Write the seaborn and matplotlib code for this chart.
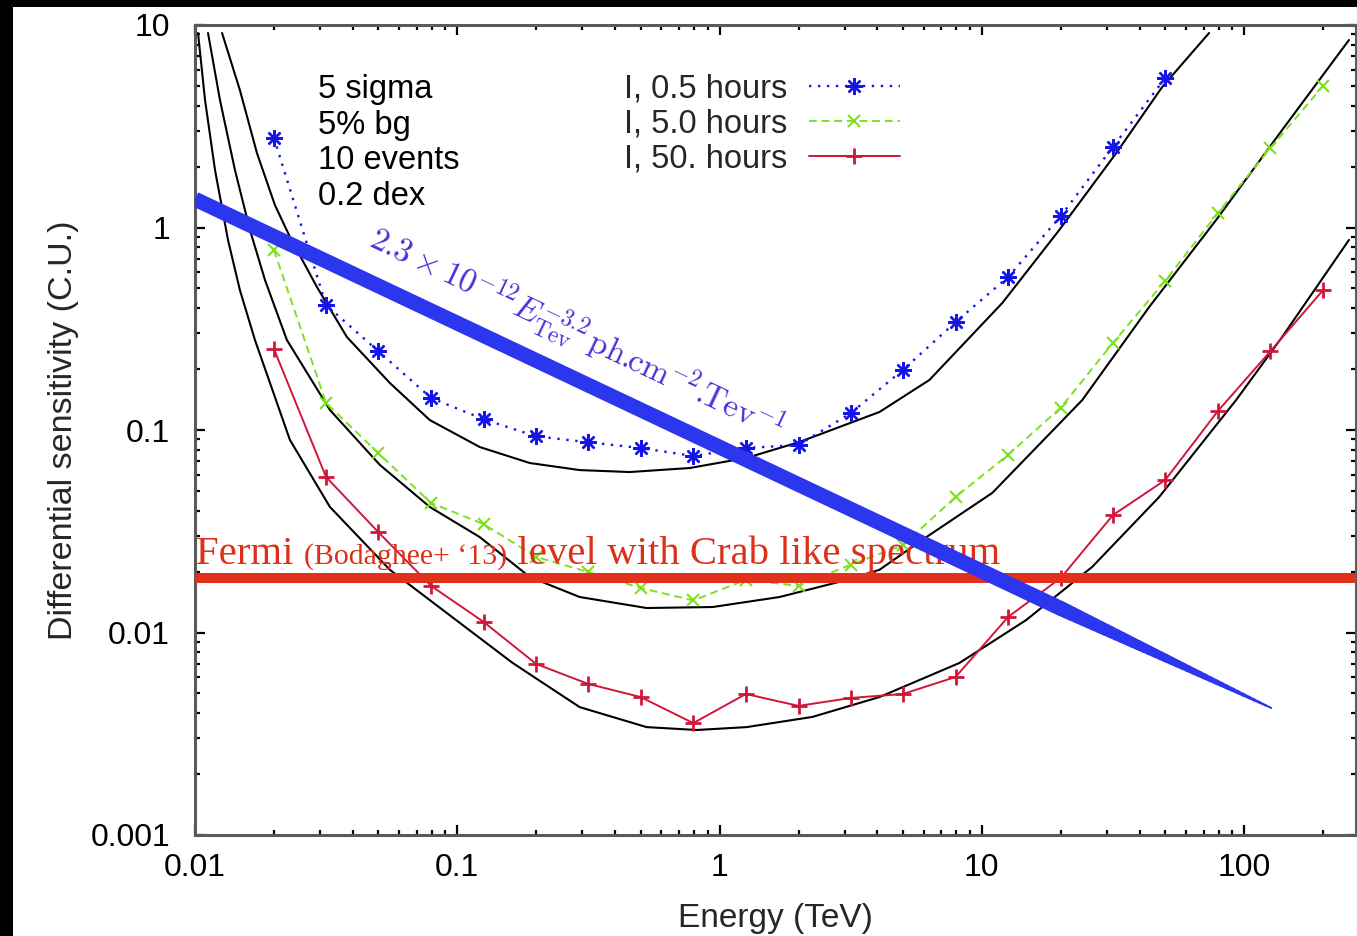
import numpy as np
import matplotlib
matplotlib.use("Agg")
import matplotlib.pyplot as plt
import seaborn as sns
from matplotlib import ticker
from matplotlib.collections import LineCollection
from matplotlib.patches import Rectangle
from matplotlib.offsetbox import TextArea, HPacker, AnchoredOffsetbox

# ---------------- data ----------------
energy_pts = [0.02, 0.0316, 0.05, 0.0794, 0.126, 0.2, 0.316, 0.5, 0.794, 1.26,
              2.0, 3.16, 5.0, 7.94, 12.6, 20.0, 31.6, 50.0, 79.4, 126.0, 200.0]
sens_05h = [2.77, 0.414, 0.245, 0.144, 0.113, 0.093, 0.087, 0.0815, 0.0744, 0.0815,
            0.0843, 0.121, 0.198, 0.341, 0.570, 1.14, 2.50, 5.47]
sens_5h = [0.774, 0.136, 0.0769, 0.0436, 0.0343, 0.0236, 0.0199, 0.0166, 0.0144, 0.0182,
           0.0170, 0.0216, 0.0270, 0.0467, 0.0754, 0.129, 0.269, 0.545, 1.18, 2.47, 5.0]
sens_50h = [0.251, 0.0586, 0.0313, 0.0170, 0.01128, 0.00699, 0.00557, 0.00480, 0.00357, 0.00497,
            0.00434, 0.00475, 0.00497, 0.00603, 0.01194, 0.0186, 0.0380, 0.0566, 0.124, 0.245, 0.491]
series_labels = ["I, 0.5 hours", "I, 5.0 hours", "I, 50. hours"]

fitA_x = [0.01268, 0.01483, 0.01723, 0.02017, 0.02301, 0.02917, 0.03793, 0.05534, 0.07853, 0.1218,
          0.1889, 0.2929, 0.4540, 0.7690, 1.267, 2.018, 4.070, 6.31, 11.97, 19.73, 32.53, 48.7, 73.5]
fitA_y = [9.13, 4.77, 2.33, 1.29, 0.898, 0.508, 0.288, 0.1706, 0.112, 0.0824,
          0.0687, 0.0634, 0.0620, 0.0649, 0.0728, 0.0873, 0.1227, 0.1766, 0.424, 0.972, 2.33, 4.94, 9.13]
fitB_x = [0.01121, 0.01245, 0.01420, 0.01620, 0.01848, 0.02241, 0.03268, 0.05070, 0.07853, 0.1218,
          0.1889, 0.2929, 0.5272, 0.9404, 1.693, 3.046, 4.070, 6.149, 10.96, 24.15, 43.46, 78.2, 139.6, 251.0]
fitB_y = [9.13, 4.26, 1.923, 0.972, 0.551, 0.278, 0.1256, 0.0672, 0.0417, 0.0296,
          0.0188, 0.01497, 0.01321, 0.01336, 0.01497, 0.01816, 0.0204, 0.0296, 0.0489, 0.1406, 0.405, 1.089, 3.03, 8.43]
fitC_x = [0.01027, 0.01092, 0.01192, 0.01336, 0.01483, 0.01693, 0.02301, 0.03268, 0.05534, 0.0912,
          0.1627, 0.2929, 0.5272, 0.817, 1.267, 2.261, 4.070, 8.21, 14.77, 26.36, 47.45, 93.2, 139.6, 251.0]
fitC_y = [9.13, 4.26, 1.923, 0.868, 0.491, 0.278, 0.0893, 0.0417, 0.0204, 0.01248,
          0.00707, 0.00428, 0.00341, 0.00330, 0.00341, 0.00383, 0.00480, 0.00707, 0.01153, 0.0211, 0.0467, 0.1406, 0.288, 0.868]

crab_energy = [0.01, 126.8]
crab_flux = [1.38, 0.00424]
fermi_level = 0.0186

cond_lines = ["5 sigma", "5% bg", "10 events", "0.2 dex"]
x_ticks = [0.01, 0.1, 1, 10, 100]
y_ticks = [0.001, 0.01, 0.1, 1, 10]

# ---------------- style ----------------
sns.set_style("ticks")
plt.rcParams["font.family"] = ["Liberation Sans", "DejaVu Sans"]
plt.rcParams["mathtext.fontset"] = "cm"

W, H = 1357, 936
fig = plt.figure(figsize=(W / 100, H / 100), dpi=100, facecolor="white")
ax = fig.add_axes([195 / W, 1 - 835 / H, (1356 - 195) / W, (835 - 25) / H])
ax.set_facecolor("white")
ax.set_xscale("log")
ax.set_yscale("log")

# black fit curves
for fx, fy in [(fitA_x, fitA_y), (fitB_x, fitB_y), (fitC_x, fitC_y)]:
    sns.lineplot(x=fx, y=fy, ax=ax, color="black", lw=1.5, estimator=None, sort=False,
                 legend=False, zorder=2)

blue_c, green_c, red_c = "#1515e8", "#7ee01e", "#d0163a"
n05 = len(sens_05h)
sns.lineplot(x=energy_pts[:n05], y=sens_05h, ax=ax, color=blue_c, lw=1.7,
             linestyle=(0, (1, 2.8)), marker=(8, 2, 0), ms=12, mew=1.7, mec=blue_c,
             estimator=None, sort=False, legend=False, zorder=3)
sns.lineplot(x=energy_pts, y=sens_5h, ax=ax, color=green_c, lw=1.4,
             linestyle=(0, (4, 2.5)), marker="x", ms=9, mew=1.5, mec=green_c,
             estimator=None, sort=False, legend=False, zorder=3)
sns.lineplot(x=energy_pts, y=sens_50h, ax=ax, color=red_c, lw=1.4,
             linestyle="-", marker="+", ms=11, mew=2.0, mec=red_c,
             estimator=None, sort=False, legend=False, zorder=3)
series_handles = ax.lines[-3:]

# Fermi level band
ax.axhline(fermi_level, color="#e2301a", lw=7.2, zorder=5, solid_capstyle="butt")

# Crab-like spectrum band (thick, tapering toward its end)
lx = np.log10(crab_energy)
ly = np.log10(crab_flux)
t_taper = 0.80
ax.plot([10 ** lx[0], 10 ** (lx[0] + t_taper * (lx[1] - lx[0]))],
        [10 ** ly[0], 10 ** (ly[0] + t_taper * (ly[1] - ly[0]))],
        color="#2b36ee", lw=10.8, solid_capstyle="butt", zorder=7)
ts = np.linspace(t_taper, 1.0, 40)
px = 10 ** (lx[0] + ts * (lx[1] - lx[0]))
py = 10 ** (ly[0] + ts * (ly[1] - ly[0]))
segs = [[(px[i], py[i]), (px[i + 1], py[i + 1])] for i in range(len(ts) - 1)]
widths = np.linspace(10.8, 1.5, len(segs))
lc = LineCollection(segs, linewidths=widths, colors="#2b36ee", capstyle="round", zorder=7)
ax.add_collection(lc)

ax.text(0.0452, 0.80,
        r"$2.3\times10^{-12}E_{\mathrm{Tev}}^{-3.2}\,\mathrm{ph.\!\!cm}^{-2}.\!\!\mathrm{Tev}^{-1}$",
        color="#4533d8", fontsize=24, rotation=-25.3, rotation_mode="anchor",
        ha="left", va="baseline", zorder=8)

# Fermi label
serif = ["Liberation Serif", "DejaVu Serif"]
fc = "#dc3018"
parts = HPacker(children=[
    TextArea("Fermi ", textprops=dict(color=fc, fontsize=29.3, family=serif)),
    TextArea("(Bodaghee+ \u201813)", textprops=dict(color=fc, fontsize=21.5, family=serif)),
    TextArea(" level with Crab like spectrum", textprops=dict(color=fc, fontsize=29.3, family=serif)),
], align="baseline", pad=0, sep=0)
box = AnchoredOffsetbox(loc="lower left", child=parts, frameon=False, pad=0, borderpad=0,
                        bbox_to_anchor=(0.001, 0.3235), bbox_transform=ax.transAxes)
box.set_zorder(6)
ax.add_artist(box)

# condition text
for i, s in enumerate(cond_lines):
    ax.text(0.1059, 0.920 - i * 0.0438, s, transform=ax.transAxes, fontsize=23.5,
            ha="left", va="center", color="black", zorder=8)

leg = ax.legend(series_handles, series_labels, loc="upper right",
                bbox_to_anchor=(900 / W, 1 - 73 / H), bbox_transform=fig.transFigure,
                frameon=False, markerfirst=False, handlelength=2.8, handletextpad=0.65,
                labelspacing=0.13, borderpad=0, borderaxespad=0, fontsize=23.5, numpoints=1)
leg.set_zorder(9)

# axes
ax.set_xlim(0.01, 267)
ax.set_ylim(0.001, 10)
ax.xaxis.set_major_locator(ticker.FixedLocator(x_ticks))
ax.yaxis.set_major_locator(ticker.FixedLocator(y_ticks))
ax.xaxis.set_minor_locator(ticker.LogLocator(base=10, subs=np.arange(2, 10)))
ax.yaxis.set_minor_locator(ticker.LogLocator(base=10, subs=np.arange(2, 10)))
fmt = ticker.FuncFormatter(lambda v, _: f"{v:g}")
ax.xaxis.set_major_formatter(fmt)
ax.yaxis.set_major_formatter(fmt)
ax.xaxis.set_minor_formatter(ticker.NullFormatter())
ax.yaxis.set_minor_formatter(ticker.NullFormatter())
ax.tick_params(which="both", direction="in", top=True, right=True, color="black",
               width=1.6, labelsize=23, labelcolor="black")
ax.tick_params(which="major", length=7)
ax.tick_params(which="minor", length=3.5)
ax.tick_params(axis="x", which="major", pad=13)
ax.tick_params(axis="y", which="major", pad=18)
for sp in ax.spines.values():
    sp.set_visible(True)
    sp.set_color("#5a5a5a")
    sp.set_linewidth(2.2)

ax.set_xlabel("Energy (TeV)", fontsize=24, labelpad=14)
ax.set_ylabel("Differential sensitivity (C.U.)", fontsize=24.5, labelpad=8)

# black frame strips of the screenshot
fig.add_artist(Rectangle((0, 1 - 7 / H), 1, 7 / H, transform=fig.transFigure,
                         facecolor="black", edgecolor="none", zorder=20))
fig.add_artist(Rectangle((0, 0), 13 / W, 1, transform=fig.transFigure,
                         facecolor="black", edgecolor="none", zorder=20))

fig.savefig("out.png", dpi=100, facecolor="white")
